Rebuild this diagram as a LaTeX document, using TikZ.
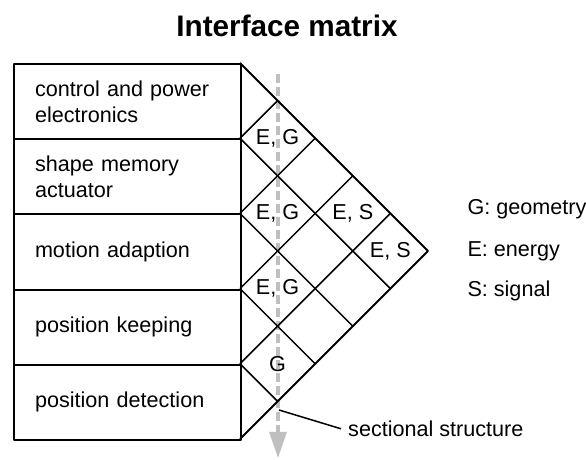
\documentclass[tikz,border=0pt]{standalone}
\usepackage{fontspec}
\setmainfont{Liberation Sans}
\usetikzlibrary{arrows.meta}
\begin{document}
\begin{tikzpicture}[x=1pt, y=1pt, line join=round, font=\fontsize{21.6}{25.5}\selectfont,
box/.style={draw, line width=2pt, minimum width=227pt, minimum height=75.2pt,
  text width=185pt, inner xsep=21pt, align=left, anchor=north west},
grid/.style={line width=1.5pt},
lbl/.style={inner sep=0pt, anchor=base west}]
\def\xl{13} \def\xr{240}
\def\ytop{397} \def\h{75.2} \def\d{37.6}
\useasboundingbox (0,0) rectangle (586,460);
\node[anchor=base, font=\fontsize{29.7}{30}\selectfont\bfseries] (title) at (287,423.3) {Interface matrix};
% sectional structure arrow
\draw[gray!50, line width=3.2pt, dash pattern=on 9pt off 4pt,
  -{Triangle[width=17pt,length=26pt]}] (278,386) -- (278,2);
% subsystem boxes
\foreach \name/\txt [count=\i] in {cpe/{control and power\\electronics},
  sma/{shape memory\\actuator}, mad/{motion adaption}, pke/{position keeping},
  pde/{position detection}}
  \node[box] (\name) at (\xl,{\ytop-(\i-1)*\h}) {\txt};
% matrix
\foreach \k in {1,...,4}{
  \draw[grid] (\xr,{\ytop-\k*\h}) -- ++({(5-\k)*\d},{-(5-\k)*\d});
  \draw[grid] (\xr,{\ytop-\k*\h}) -- ++({\k*\d},{\k*\d});
}
\draw[line width=2pt] (\xr,\ytop) -- ++({5*\d},{-5*\d}) -- (\xr,{\ytop-5*\h});
\foreach \i/\j/\t in {1/2/{E, G}, 2/3/{E, G}, 1/4/{E, S}, 1/5/{E, S}, 3/4/{E, G}, 4/5/G}
  \node (c\i\j) at ({\xr+(\j-\i)*\d},{\ytop-(\i+\j-1)*\h/2}) {\t};
% legend
\node[lbl] (lgeo) at (467.3,245) {G: geometry};
\node[lbl] (lene) at (467.3,203.3) {E: energy};
\node[lbl] (lsig) at (467.3,163) {S: signal};
% callout
\coordinate (sec) at (279,50);
\node[lbl, inner xsep=7pt] (sectxt) at (341,23.5) {sectional structure};
\draw[line width=1.5pt] (sec) -- (sectxt.west);
\end{tikzpicture}
\end{document}
